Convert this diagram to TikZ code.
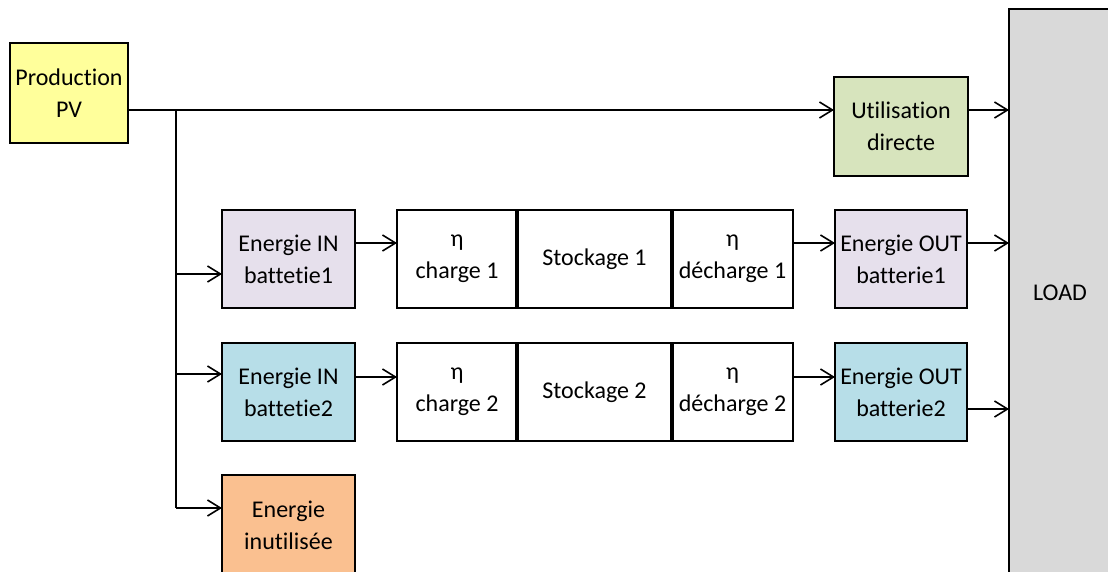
\documentclass[tikz,border=0pt]{standalone}
\usepackage{fontspec}
\setmainfont{Carlito}[Ligatures=NoCommon]
\usetikzlibrary{arrows.meta, positioning}

\definecolor{pvyellow}{HTML}{FFFF9B}
\definecolor{directgreen}{HTML}{D7E4BD}
\definecolor{batlilac}{HTML}{E6E0EC}
\definecolor{batblue}{HTML}{B7DEE8}
\definecolor{wasteorange}{HTML}{FAC090}
\definecolor{loadgrey}{HTML}{D9D9D9}

\begin{document}
\begin{tikzpicture}[x=1pt, y=-1pt]
    \tikzset{
        block/.style = {rectangle, draw=black, line width=1.6pt, inner sep=0pt, outer sep=0pt,
                        align=center, minimum height=98pt, font=\fontsize{24}{32}\selectfont},
        line/.style = {draw=black, line width=1.6pt, -{Straight Barb[length=13pt, width=16pt]}},
        trunk/.style = {draw=black, line width=1.6pt},
        sep/.style = {draw=black, line width=4pt},
    }
    \useasboundingbox (0,0) rectangle (1108,571);

    % source and direct use
    \node[block, fill=pvyellow, minimum width=118pt, minimum height=100pt](pv) at (69,93) {Production\\PV};
    \node[block, fill=directgreen, minimum width=134pt, minimum height=99pt](direct) at (901,126.5) {Utilisation\\directe};

    % load
    \node[block, fill=loadgrey, minimum width=102pt, minimum height=568pt](load) at (1060,293) {LOAD};

    % battery 1
    \node[block, fill=batlilac, minimum width=133pt](in1) at (288.5,259) {Energie IN\\battetie1};
    \node[block, minimum width=120pt](chg1)[right = 42pt of in1]{η\\charge 1};
    \node[block, minimum width=155pt](sto1)[right = 0pt of chg1]{Stockage 1};
    \node[block, minimum width=121pt](dch1)[right = 0pt of sto1]{η\\décharge 1};
    \node[block, fill=batlilac, minimum width=132pt](out1)[right = 42pt of dch1]{Energie OUT\\batterie1};

    % battery 2
    \node[block, fill=batblue, minimum width=133pt](in2)[below = 35pt of in1]{Energie IN\\battetie2};
    \node[block, minimum width=120pt](chg2)[right = 42pt of in2]{η\\charge 2};
    \node[block, minimum width=155pt](sto2)[right = 0pt of chg2]{Stockage 2};
    \node[block, minimum width=121pt](dch2)[right = 0pt of sto2]{η\\décharge 2};
    \node[block, fill=batblue, minimum width=132pt](out2)[right = 42pt of dch2]{Energie OUT\\batterie2};

    % unused energy
    \node[block, fill=wasteorange, minimum width=133pt, minimum height=100pt](waste)
        [below = 34pt of in2]{Energie\\inutilisée};

    \draw[sep] (sto1.north west) -- (sto1.south west);
    \draw[sep] (sto1.north east) -- (sto1.south east);
    \draw[sep] (sto2.north west) -- (sto2.south west);
    \draw[sep] (sto2.north east) -- (sto2.south east);

    % split points
    \coordinate (split) at (176,110);
    \coordinate (tap1) at (176,274);
    \coordinate (tap2) at (176,374);
    \coordinate (tap3) at (176,508);
    \coordinate (row1) at (0,243);
    \coordinate (row2) at (0,377);
    \coordinate (row2out) at (0,409);

    \path [line] (split -| pv.east) -- (split -| direct.west);
    \path [line] (split -| direct.east) -- (split -| load.west);
    \path [trunk] (split) -- (tap3);

    \path [line] (tap1) -- (tap1 -| in1.west);
    \path [line] (tap2) -- (tap2 -| in2.west);
    \path [line] (tap3) -- (tap3 -| waste.west);

    \path [line] (row1 -| in1.east) -- (row1 -| chg1.west);
    \path [line] (row1 -| dch1.east) -- (row1 -| out1.west);
    \path [line] (row1 -| out1.east) -- (row1 -| load.west);

    \path [line] (row2 -| in2.east) -- (row2 -| chg2.west);
    \path [line] (row2 -| dch2.east) -- (row2 -| out2.west);
    \path [line] (row2out -| out2.east) -- (row2out -| load.west);

\end{tikzpicture}
\end{document}
